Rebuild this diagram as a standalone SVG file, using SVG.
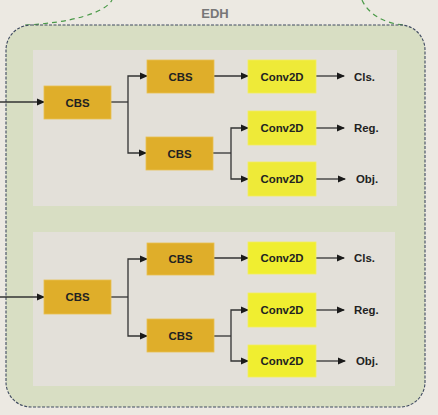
<svg xmlns="http://www.w3.org/2000/svg" width="438" height="415" viewBox="0 0 438 415">
<defs>
<marker id="ah" markerWidth="8" markerHeight="8" refX="7" refY="4" orient="auto" markerUnits="userSpaceOnUse"><path d="M0,0.5 L8,4 L0,7.5 z" fill="#1a1a1a"/></marker>
<style>
.cbs{fill:#dfae2a;stroke:#e8c050;stroke-width:0.8}
.conv{fill:#eeea38;stroke:#f2ee60;stroke-width:0.8}
.t{font-family:"Liberation Sans",Arial,sans-serif;font-size:11.4px;font-weight:bold;fill:#222;text-anchor:middle;dominant-baseline:central}
.lbl{font-family:"Liberation Sans",Arial,sans-serif;font-size:11.4px;font-weight:bold;fill:#222;dominant-baseline:central}
.c{fill:none;stroke:#333;stroke-width:1.3}
.ca{fill:none;stroke:#333;stroke-width:1.3;marker-end:url(#ah)}
.panel{fill:#e3e0d9}
</style>
</defs>
<rect width="438" height="415" fill="#ece9e2"/>
<g id="edh">
<path d="M25,25 C70,23 105,13 112,0" fill="none" stroke="#4a9a48" stroke-width="1.2" stroke-dasharray="5,4"/>
<path d="M362,0 C368,14 385,24 405,25" fill="none" stroke="#4a9a48" stroke-width="1.2" stroke-dasharray="5,4"/>
<rect x="6" y="25" width="419" height="382" rx="25" ry="25" fill="#d8dec3" stroke="#3f4a60" stroke-width="1.1" stroke-dasharray="3,1.5"/>
<text x="215" y="13" class="t" style="fill:#777;font-size:13px">EDH</text>
</g>
<g id="panel-top"><rect class="panel" x="33" y="50" width="364" height="156"/></g>
<g id="panel-bottom"><rect class="panel" x="33" y="232" width="362" height="154"/></g>
<g id="connectors">
<path class="ca" d="M0,102 H44"/>
<path class="c" d="M111,102 H128"/>
<path class="ca" d="M128,102 V76 H147"/>
<path class="ca" d="M128,102 V153 H146"/>
<path class="ca" d="M214,76 H248"/>
<path class="c" d="M213,153 H231"/>
<path class="ca" d="M231,153 V128 H248"/>
<path class="ca" d="M231,153 V179 H248"/>
<path class="ca" d="M316,76 H344"/>
<path class="ca" d="M316,128 H344"/>
<path class="ca" d="M316,179 H345"/>
<path class="ca" d="M0,297 H44"/>
<path class="c" d="M111,297 H128"/>
<path class="ca" d="M128,297 V259 H147"/>
<path class="ca" d="M128,297 V336 H147"/>
<path class="ca" d="M214,258 H248"/>
<path class="c" d="M214,336 H231"/>
<path class="ca" d="M231,336 V310 H248"/>
<path class="ca" d="M231,336 V361 H248"/>
<path class="ca" d="M316,258 H344"/>
<path class="ca" d="M316,310 H344"/>
<path class="ca" d="M316,361 H345"/>
</g>
<g id="t-cbs1"><rect class="cbs" x="44" y="86" width="67" height="33"/><text class="t" x="77.5" y="102.5">CBS</text></g>
<g id="t-cbs2"><rect class="cbs" x="147" y="60" width="67" height="33"/><text class="t" x="180.5" y="76.5">CBS</text></g>
<g id="t-cbs3"><rect class="cbs" x="146" y="137" width="67" height="33"/><text class="t" x="179.5" y="153.5">CBS</text></g>
<g id="t-conv1"><rect class="conv" x="248" y="60" width="68" height="33"/><text class="t" x="282" y="76.5">Conv2D</text></g>
<g id="t-conv2"><rect class="conv" x="248" y="111" width="68" height="34"/><text class="t" x="282" y="128">Conv2D</text></g>
<g id="t-conv3"><rect class="conv" x="248" y="162" width="68" height="34"/><text class="t" x="282" y="179">Conv2D</text></g>
<g id="t-cls"><text class="lbl" x="354" y="76.5">Cls.</text></g>
<g id="t-reg"><text class="lbl" x="354" y="128">Reg.</text></g>
<g id="t-obj"><text class="lbl" x="356" y="179">Obj.</text></g>
<g id="b-cbs1"><rect class="cbs" x="44" y="280" width="67" height="34"/><text class="t" x="77.5" y="297">CBS</text></g>
<g id="b-cbs2"><rect class="cbs" x="147" y="243" width="67" height="32"/><text class="t" x="180.5" y="259">CBS</text></g>
<g id="b-cbs3"><rect class="cbs" x="147" y="319" width="67" height="33"/><text class="t" x="180.5" y="336">CBS</text></g>
<g id="b-conv1"><rect class="conv" x="248" y="242" width="68" height="32" style="fill:#f0ee30"/><text class="t" x="282" y="258">Conv2D</text></g>
<g id="b-conv2"><rect class="conv" x="248" y="293" width="68" height="34" style="fill:#f0ee30"/><text class="t" x="282" y="310">Conv2D</text></g>
<g id="b-conv3"><rect class="conv" x="248" y="345" width="68" height="32" style="fill:#f0ee30"/><text class="t" x="282" y="361">Conv2D</text></g>
<g id="b-cls"><text class="lbl" x="354" y="258">Cls.</text></g>
<g id="b-reg"><text class="lbl" x="354" y="310">Reg.</text></g>
<g id="b-obj"><text class="lbl" x="356" y="361">Obj.</text></g>
</svg>
